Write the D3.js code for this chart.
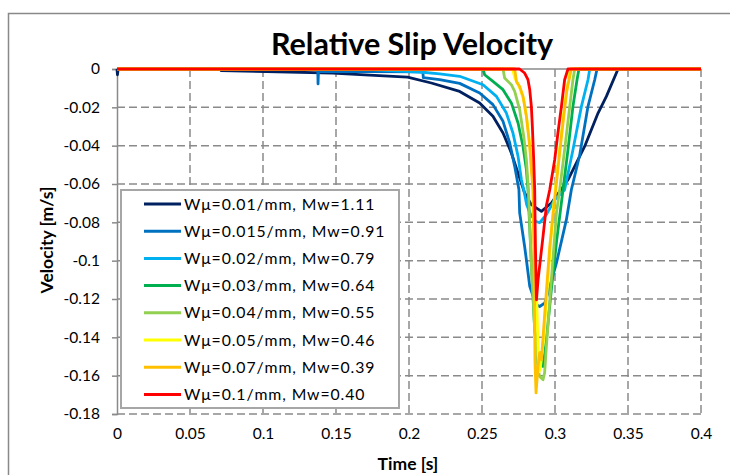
<!DOCTYPE html>
<html>
<head>
<meta charset="utf-8">
<script src="https://cdn.jsdelivr.net/npm/d3@7"></script>
<style>
  body { margin: 0; background: #fff; }
  text { font-family: Lato, "Open Sans", sans-serif; fill: #000; }
</style>
</head>
<body>
<script>
// series labels and colours
var labels = ["Wμ=0.01/mm, Mw=1.11", "Wμ=0.015/mm, Mw=0.91", "Wμ=0.02/mm, Mw=0.79", "Wμ=0.03/mm, Mw=0.64",
  "Wμ=0.04/mm, Mw=0.55", "Wμ=0.05/mm, Mw=0.46", "Wμ=0.07/mm, Mw=0.39", "Wμ=0.1/mm, Mw=0.40"];
var colors = ["#002060", "#0070c0", "#00b0f0", "#00b050", "#92d050", "#ffff00", "#ffc000", "#ff0000"];

var xTicks = [0, 0.05, 0.1, 0.15, 0.2, 0.25, 0.3, 0.35, 0.4];
var yTicks = [0, -0.02, -0.04, -0.06, -0.08, -0.1, -0.12, -0.14, -0.16, -0.18];

// time [s] and velocity [m/s]
var t001 = [0, 0.0003, 0.0008, 0.071, 0.0713, 0.1025, 0.1477, 0.173, 0.199, 0.2153, 0.2347, 0.2484, 0.2575, 0.2644, 0.2701, 0.2747, 0.2792, 0.2838, 0.2907, 0.2975, 0.3089, 0.3203, 0.3295, 0.3352, 0.3432, 0.4];
var v001 = [0, -0.003, 0, 0, -0.0009, -0.0013, -0.0022, -0.0032, -0.0042, -0.0073, -0.0117, -0.0177, -0.0247, -0.0334, -0.0438, -0.0543, -0.0647, -0.0708, -0.0743, -0.0699, -0.0578, -0.0404, -0.023, -0.0143, 0, 0];

var t0015 = [0, 0.1375, 0.1377, 0.138, 0.2095, 0.2098, 0.221, 0.2347, 0.2484, 0.2575, 0.2644, 0.269, 0.2724, 0.2753, 0.2758, 0.2792, 0.2804, 0.2827, 0.2849, 0.2873, 0.2895, 0.293, 0.2952, 0.301, 0.3078, 0.3112, 0.3169, 0.3226, 0.3272, 0.3288, 0.4];
var v0015 = [0, 0, -0.0078, -0.0012, -0.0015, -0.0045, -0.0056, -0.0075, -0.0125, -0.0186, -0.0273, -0.0386, -0.0508, -0.063, -0.075, -0.0926, -0.0995, -0.1134, -0.1183, -0.123, -0.1239, -0.1221, -0.1169, -0.1012, -0.0786, -0.063, -0.045, -0.0195, -0.0056, 0, 0];

var t002 = [0, 0.17, 0.1868, 0.2094, 0.221, 0.2347, 0.2507, 0.2599, 0.2667, 0.2712, 0.2747, 0.277, 0.2786, 0.2806, 0.2834, 0.2868, 0.2895, 0.2941, 0.2998, 0.3066, 0.3123, 0.3181, 0.3226, 0.3238, 0.4];
var v002 = [0, 0, -0.0009, -0.0017, -0.0025, -0.0038, -0.0082, -0.0143, -0.023, -0.0334, -0.0456, -0.0578, -0.063, -0.0708, -0.076, -0.0795, -0.0802, -0.076, -0.0682, -0.063, -0.0421, -0.0195, -0.0056, 0, 0];

var t003 = [0, 0.2507, 0.2518, 0.2575, 0.2644, 0.2701, 0.2747, 0.2781, 0.2804, 0.2815, 0.2838, 0.2861, 0.2884, 0.2907, 0.2918, 0.2941, 0.2975, 0.3012, 0.3055, 0.3089, 0.3123, 0.3151, 0.3164, 0.4];
var v003 = [0, 0, -0.003, -0.0065, -0.0108, -0.0177, -0.0282, -0.0404, -0.0525, -0.063, -0.1011, -0.136, -0.1517, -0.148, -0.1552, -0.1412, -0.1151, -0.0891, -0.063, -0.0421, -0.0195, -0.0056, 0, 0];

var t004 = [0, 0.2644, 0.2655, 0.2701, 0.2724, 0.2758, 0.2786, 0.2804, 0.2818, 0.2838, 0.2861, 0.2884, 0.2895, 0.2918, 0.2929, 0.2941, 0.2975, 0.301, 0.3032, 0.3066, 0.3101, 0.3123, 0.3135, 0.4];
var v004 = [0, 0, -0.0047, -0.0082, -0.0117, -0.0212, -0.0352, -0.0473, -0.063, -0.1021, -0.136, -0.1568, -0.1604, -0.1621, -0.1585, -0.1447, -0.1099, -0.075, -0.063, -0.0421, -0.0195, -0.0056, 0, 0];

var t005 = [0, 0.271, 0.2724, 0.2758, 0.2786, 0.2806, 0.2827, 0.2847, 0.2861, 0.2875, 0.2885, 0.2892, 0.2902, 0.2922, 0.2957, 0.2984, 0.3012, 0.3039, 0.3066, 0.3087, 0.3104, 0.4];
var v005 = [0, 0, -0.0045, -0.0098, -0.016, -0.0254, -0.0395, -0.0578, -0.0838, -0.1204, -0.149, -0.158, -0.1543, -0.1412, -0.1047, -0.076, -0.0552, -0.0369, -0.0186, -0.0082, 0, 0];

var t007 = [0, 0.2724, 0.2736, 0.2758, 0.2781, 0.2804, 0.2827, 0.2838, 0.2849, 0.2858, 0.2863, 0.287, 0.2884, 0.2895, 0.2907, 0.293, 0.2964, 0.2998, 0.3032, 0.306, 0.3082, 0.3112, 0.4];
var v007 = [0, 0, -0.0065, -0.0091, -0.0143, -0.0247, -0.0404, -0.0525, -0.063, -0.11, -0.1533, -0.169, -0.1552, -0.148, -0.1517, -0.1271, -0.0926, -0.0682, -0.0437, -0.0247, -0.0108, 0, 0];

var t01 = [0, 0.2757, 0.2792, 0.2815, 0.2827, 0.2838, 0.2845, 0.2854, 0.2861, 0.2866, 0.2873, 0.2884, 0.2918, 0.2941, 0.2964, 0.2998, 0.302, 0.3044, 0.3066, 0.3089, 0.4];
var v01 = [0, 0, -0.0021, -0.0056, -0.0108, -0.0195, -0.03, -0.0473, -0.063, -0.0926, -0.1204, -0.11, -0.0873, -0.0713, -0.063, -0.0473, -0.0334, -0.0195, -0.0056, 0, 0];

var times = [t001, t0015, t002, t003, t004, t005, t007, t01];
var vels = [v001, v0015, v002, v003, v004, v005, v007, v01];

var width = 730, height = 475;
var margin = {top: 69, right: 29, bottom: 61, left: 117};

var svg = d3.select("body").append("svg")
  .attr("width", width)
  .attr("height", height);

// chart border
svg.append("rect")
  .attr("x", 8.5).attr("y", 13.5)
  .attr("width", 740).attr("height", 480)
  .attr("fill", "none")
  .attr("stroke", "#898989")
  .attr("stroke-width", 1.5);

var x = d3.scaleLinear().domain([0, 0.4]).range([margin.left, width - margin.right]);
var y = d3.scaleLinear().domain([-0.18, 0]).range([height - margin.bottom, margin.top]);

// gridlines
svg.append("g").selectAll("line")
  .data(xTicks.slice(1))
  .enter().append("line")
    .attr("x1", function(d) { return x(d); })
    .attr("x2", function(d) { return x(d); })
    .attr("y1", y(0)).attr("y2", y(-0.18))
    .attr("stroke", "#8a8a8a")
    .attr("stroke-width", 1.5)
    .attr("stroke-dasharray", "8,4");

svg.append("g").selectAll("line")
  .data(yTicks.slice(1))
  .enter().append("line")
    .attr("x1", x(0)).attr("x2", x(0.4))
    .attr("y1", function(d) { return y(d); })
    .attr("y2", function(d) { return y(d); })
    .attr("stroke", "#8a8a8a")
    .attr("stroke-width", 1.5)
    .attr("stroke-dasharray", "8,4");

// axes
var fmt = function(d) { return String(+d.toFixed(2)); };

var yAxis = svg.append("g")
  .attr("transform", "translate(" + x(0) + ",0)")
  .call(d3.axisLeft(y).tickValues(yTicks).tickSize(5).tickPadding(12).tickFormat(fmt));
yAxis.select(".domain").attr("stroke", "#8a8a8a").attr("stroke-width", 1.5);
yAxis.selectAll(".tick line").attr("stroke", "#8a8a8a").attr("stroke-width", 1.5);
yAxis.selectAll("text").style("font-size", "15.5px").attr("fill", "#000");

var xAxis = svg.append("g")
  .attr("transform", "translate(0," + y(-0.18) + ")")
  .call(d3.axisBottom(x).tickValues(xTicks).tickSize(0).tickPadding(14).tickFormat(fmt));
xAxis.select(".domain").remove();
xAxis.selectAll("text").style("font-size", "15.5px").attr("fill", "#000");

// horizontal axis line at zero
svg.append("line")
  .attr("x1", x(0)).attr("x2", x(0.4))
  .attr("y1", y(0)).attr("y2", y(0))
  .attr("stroke", "#8a8a8a")
  .attr("stroke-width", 1.5);

// series
var line = d3.line()
  .x(function(d) { return x(d[0]); })
  .y(function(d) { return y(d[1]); });

times.forEach(function(ts, i) {
  var pts = ts.map(function(t, j) { return [t, vels[i][j]]; });
  svg.append("path")
    .datum(pts)
    .attr("d", line)
    .attr("fill", "none")
    .attr("stroke", colors[i])
    .attr("stroke-width", 2.8)
    .attr("stroke-linejoin", "round");
});

// legend
var legend = svg.append("g");
legend.append("rect")
  .attr("x", 121).attr("y", 190)
  .attr("width", 278).attr("height", 218)
  .attr("fill", "#fff")
  .attr("stroke", "#a6a6a6")
  .attr("stroke-width", 2);

var items = legend.selectAll("g.item")
  .data(labels)
  .enter().append("g")
    .attr("transform", function(d, i) { return "translate(0," + (204 + i * 27.2) + ")"; });
items.append("line")
  .attr("x1", 144).attr("x2", 181)
  .attr("stroke", function(d, i) { return colors[i]; })
  .attr("stroke-width", 3);
items.append("text")
  .attr("x", 184)
  .attr("dy", "0.35em")
  .style("font-size", "15.8px")
  .style("letter-spacing", "0.9px")
  .text(function(d) { return d; });

// titles
svg.append("text")
  .attr("x", 412).attr("y", 55)
  .attr("text-anchor", "middle")
  .style("font-size", "30.5px")
  .style("font-weight", "bold")
  .text("Relative Slip Velocity");

svg.append("text")
  .attr("x", 408).attr("y", 470)
  .attr("text-anchor", "middle")
  .style("font-size", "17.5px")
  .style("font-weight", "bold")
  .text("Time [s]");

svg.append("text")
  .attr("transform", "translate(53,240) rotate(-90)")
  .attr("text-anchor", "middle")
  .style("font-size", "17.5px")
  .style("font-weight", "bold")
  .text("Velocity [m/s]");
</script>
</body>
</html>
